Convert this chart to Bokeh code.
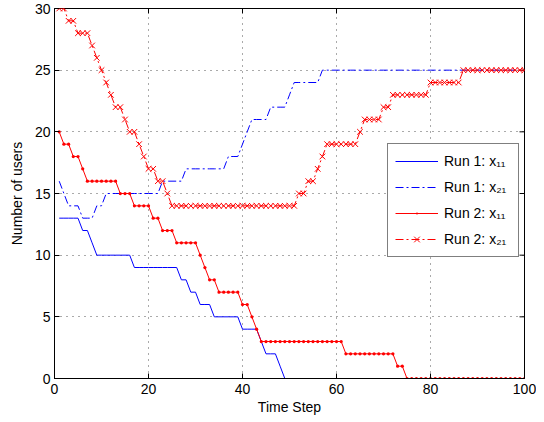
import math
from bokeh.plotting import figure
from bokeh.models import Range1d, Legend, LegendItem, FixedTicker
from bokeh.embed import file_html
from bokeh.resources import INLINE

# ---- data ----
time_steps = list(range(1, 101))

run1_x11 = [13, 13, 13, 13, 13, 12, 12, 11, 10, 10,
            10, 10, 10, 10, 10, 10, 9, 9, 9, 9,
            9, 9, 9, 9, 9, 9, 8, 8, 7, 7,
            6, 6, 6, 5, 5, 5, 5, 5, 5, 4,
            4, 4, 4, 3, 2, 2, 2, 1, 0, 0,
            0, 0, 0, 0, 0, 0, 0, 0, 0, 0,
            0, 0, 0, 0, 0, 0, 0, 0, 0, 0,
            0, 0, 0, 0, 0, 0, 0, 0, 0, 0,
            0, 0, 0, 0, 0, 0, 0, 0, 0, 0,
            0, 0, 0, 0, 0, 0, 0, 0, 0, 0]

run1_x21 = [16, 15, 14, 14, 14, 13, 13, 13, 14, 14,
            15, 15, 15, 15, 15, 15, 15, 15, 15, 15,
            15, 15, 16, 16, 16, 16, 16, 17, 17, 17,
            17, 17, 17, 17, 17, 17, 18, 18, 18, 19,
            20, 21, 21, 21, 21, 22, 22, 22, 22, 23,
            24, 24, 24, 24, 24, 24, 25, 25, 25, 25,
            25, 25, 25, 25, 25, 25, 25, 25, 25, 25,
            25, 25, 25, 25, 25, 25, 25, 25, 25, 25,
            25, 25, 25, 25, 25, 25, 25, 25, 25, 25,
            25, 25, 25, 25, 25, 25, 25, 25, 25, 25]

run2_x11 = [20, 19, 19, 18, 18, 17, 16, 16, 16, 16,
            16, 16, 16, 15, 15, 15, 14, 14, 14, 14,
            13, 13, 12, 12, 12, 11, 11, 11, 11, 11,
            10, 9, 8, 8, 7, 7, 7, 7, 7, 6,
            6, 5, 4, 3, 3, 3, 3, 3, 3, 3,
            3, 3, 3, 3, 3, 3, 3, 3, 3, 3,
            3, 2, 2, 2, 2, 2, 2, 2, 2, 2,
            2, 2, 1, 1, 0, 0, 0, 0, 0, 0,
            0, 0, 0, 0, 0, 0, 0, 0, 0, 0,
            0, 0, 0, 0, 0, 0, 0, 0, 0, 0]

run2_x21 = [30, 30, 29, 29, 28, 28, 28, 27, 26, 25,
            24, 23, 22, 22, 21, 20, 20, 19, 18, 17,
            17, 16, 16, 15, 14, 14, 14, 14, 14, 14,
            14, 14, 14, 14, 14, 14, 14, 14, 14, 14,
            14, 14, 14, 14, 14, 14, 14, 14, 14, 14,
            14, 15, 15, 16, 16, 17, 18, 19, 19, 19,
            19, 19, 19, 19, 20, 21, 21, 21, 21, 22,
            22, 23, 23, 23, 23, 23, 23, 23, 23, 24,
            24, 24, 24, 24, 24, 24, 25, 25, 25, 25,
            25, 25, 25, 25, 25, 25, 25, 25, 25, 25]

x_ticks = [0, 20, 40, 60, 80, 100]
y_ticks = [0, 5, 10, 15, 20, 25, 30]
legend_labels = ["Run 1: x\u2081\u2081", "Run 1: x\u2082\u2081",
                 "Run 2: x\u2081\u2081", "Run 2: x\u2082\u2081"]

FONT = "Liberation Sans"
FS = "14px"
BLUE = "#0000ff"
RED = "#ff0000"

p = figure(frame_width=470, frame_height=370,
           x_range=Range1d(x_ticks[0], x_ticks[-1]),
           y_range=Range1d(y_ticks[0], y_ticks[-1]),
           output_backend="svg", toolbar_location=None,
           min_border_left=54, min_border_top=8, min_border_right=12,
           min_border_bottom=40, background_fill_color="white",
           border_fill_color="white")

p.outline_line_color = "black"
p.outline_line_width = 1

for ax in (p.xaxis[0], p.yaxis[0]):
    ax.major_tick_in = 5
    ax.major_tick_out = 0
    ax.minor_tick_line_color = None
    ax.axis_line_color = "black"
    ax.major_tick_line_color = "black"
    ax.major_label_text_font = FONT
    ax.major_label_text_font_size = FS
    ax.major_label_text_color = "black"
    ax.axis_label_text_font = FONT
    ax.axis_label_text_font_size = FS
    ax.axis_label_text_font_style = "normal"
    ax.axis_label_text_color = "black"
p.xaxis[0].ticker = FixedTicker(ticks=x_ticks)
p.yaxis[0].ticker = FixedTicker(ticks=y_ticks)
p.xaxis[0].axis_label = "Time Step"
p.yaxis[0].axis_label = "Number of users"
p.xaxis[0].major_label_standoff = 5
p.xaxis[0].axis_label_standoff = 2
p.yaxis[0].major_label_standoff = 4
p.yaxis[0].axis_label_standoff = 7

p.xgrid.ticker = FixedTicker(ticks=x_ticks)
p.ygrid.ticker = FixedTicker(ticks=y_ticks)
for g in (p.xgrid, p.ygrid):
    g.grid_line_color = "#555555"
    g.grid_line_dash = "1 5"
    g.grid_line_width = 1

# inward ticks on the top and right edges of the box (clipped to the frame)
p.scatter(x_ticks, [y_ticks[-1]] * len(x_ticks), marker="dash", size=10,
          angle=math.pi / 2, line_color="black", line_width=1)
p.scatter([x_ticks[-1]] * len(y_ticks), y_ticks, marker="dash", size=10,
          line_color="black", line_width=1)

r1 = p.line(time_steps, run1_x11, line_color=BLUE, line_width=1)
r2 = p.line(time_steps, run1_x21, line_color=BLUE, line_width=1,
            line_dash="8 3 2 3")
r3l = p.line(time_steps, run2_x11, line_color=RED, line_width=1)
r3m = p.scatter(time_steps, run2_x11, marker="dot", size=13,
                fill_color=RED, line_color=RED)
r4l = p.line(time_steps, run2_x21, line_color=RED, line_width=1,
             line_dash="8 3 2 3")
r4m = p.scatter(time_steps, run2_x21, marker="x", size=8,
                line_color=RED, line_width=1)

legend = Legend(items=[
    LegendItem(label=legend_labels[0], renderers=[r1]),
    LegendItem(label=legend_labels[1], renderers=[r2]),
    LegendItem(label=legend_labels[2], renderers=[r3l, r3m]),
    LegendItem(label=legend_labels[3], renderers=[r4l, r4m]),
], location=(333, 121))
legend.border_line_color = "black"
legend.border_line_width = 1
legend.background_fill_color = "white"
legend.background_fill_alpha = 1
legend.label_text_font = FONT
legend.label_text_font_size = FS
legend.label_text_color = "black"
legend.glyph_width = 43
legend.glyph_height = 20
legend.label_height = 20
legend.label_width = 67
legend.spacing = 6
legend.padding = 7
legend.margin = 0
legend.label_standoff = 6
p.add_layout(legend)

open("out.html", "w").write(file_html(p, INLINE))
